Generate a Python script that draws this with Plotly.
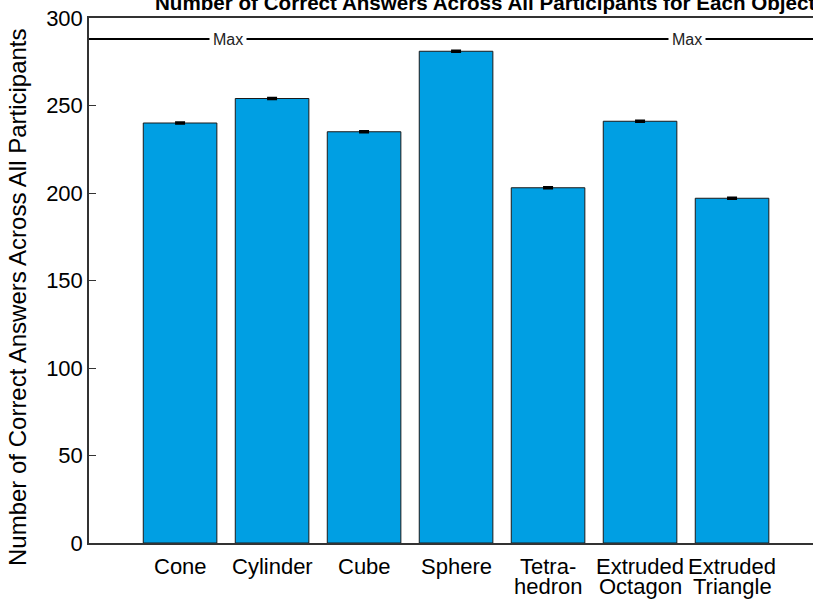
import plotly.graph_objects as go

# Correct answers per object, summed over all participants
line1 = ["Cone", "Cylinder", "Cube", "Sphere", "Tetra-", "Extruded", "Extruded"]
line2 = ["", "", "", "", "hedron", "Octagon", "Triangle"]
correct = [240, 254, 235, 281, 203, 241, 197]
errors = [0.4, 0.4, 0.4, 0.4, 0.4, 0.4, 0.4]
max_possible = 288
y_ticks = [0, 50, 100, 150, 200, 250, 300]

positions = list(range(1, len(line1) + 1))
FONT = "Liberation Sans, Arial"

fig = go.Figure()
fig.add_trace(go.Bar(
    x=positions,
    y=correct,
    width=0.8,
    marker=dict(color="#009FE3", line=dict(color="#1a1a1a", width=1)),
    error_y=dict(type="data", array=errors, visible=True,
                 color="black", thickness=2, width=5),
    showlegend=False,
))

# Maximum attainable score reference line
fig.add_shape(type="line", xref="paper", yref="y", x0=0, x1=1,
              y0=max_possible, y1=max_possible,
              line=dict(color="black", width=2))
for xm in [1.52, 6.51]:
    fig.add_annotation(x=xm, y=max_possible, xref="x", yref="y", text="Max",
                       showarrow=False, bgcolor="white", borderpad=3,
                       font=dict(size=16, color="#222",
                                 family="Liberation Sans Narrow, Arial Narrow, Liberation Sans"))

# Category labels, two-line names set with tight leading
for x, a, b in zip(positions, line1, line2):
    fig.add_annotation(x=x, y=0, xref="x", yref="paper", text=a,
                       showarrow=False, yanchor="middle", yshift=-23, borderpad=0,
                       font=dict(size=22, color="black", family=FONT))
    if b:
        fig.add_annotation(x=x, y=0, xref="x", yref="paper", text=b,
                           showarrow=False, yanchor="middle", yshift=-43, borderpad=0,
                           font=dict(size=22, color="black", family=FONT))

# Chart title
fig.add_annotation(x=(153 - 89) / 724, y=1, xref="paper", yref="paper",
                   text="<b>Number of Correct Answers Across All Participants for Each Object</b>",
                   showarrow=False, xanchor="left", yanchor="middle", yshift=16,
                   font=dict(size=20.6, color="black", family=FONT))

# Y-axis title
fig.add_annotation(x=-71 / 724, y=(543 - 297) / 525, xref="paper", yref="paper",
                   text="Number of Correct Answers Across All Participants",
                   textangle=-90, showarrow=False, xanchor="center", yanchor="middle",
                   font=dict(size=24, color="black", family=FONT))

fig.update_layout(
    width=813, height=600,
    margin=dict(l=89, r=0, t=18, b=57),
    plot_bgcolor="white", paper_bgcolor="white",
    font=dict(family=FONT, size=20, color="black"),
    bargap=0.2,
)
fig.update_xaxes(
    range=[0.01, 7.88],
    showticklabels=False,
    showline=True, linecolor="#333", linewidth=1.5, mirror=True,
    ticks="", showgrid=False, zeroline=False,
)
fig.update_yaxes(
    range=[0, 300],
    tickmode="array", tickvals=y_ticks,
    showline=True, linecolor="#333", linewidth=1.5,
    ticks="inside", ticklen=7, tickcolor="#333",
    showgrid=False, zeroline=False,
    tickfont=dict(size=22),
)

fig.write_html("out.html")
